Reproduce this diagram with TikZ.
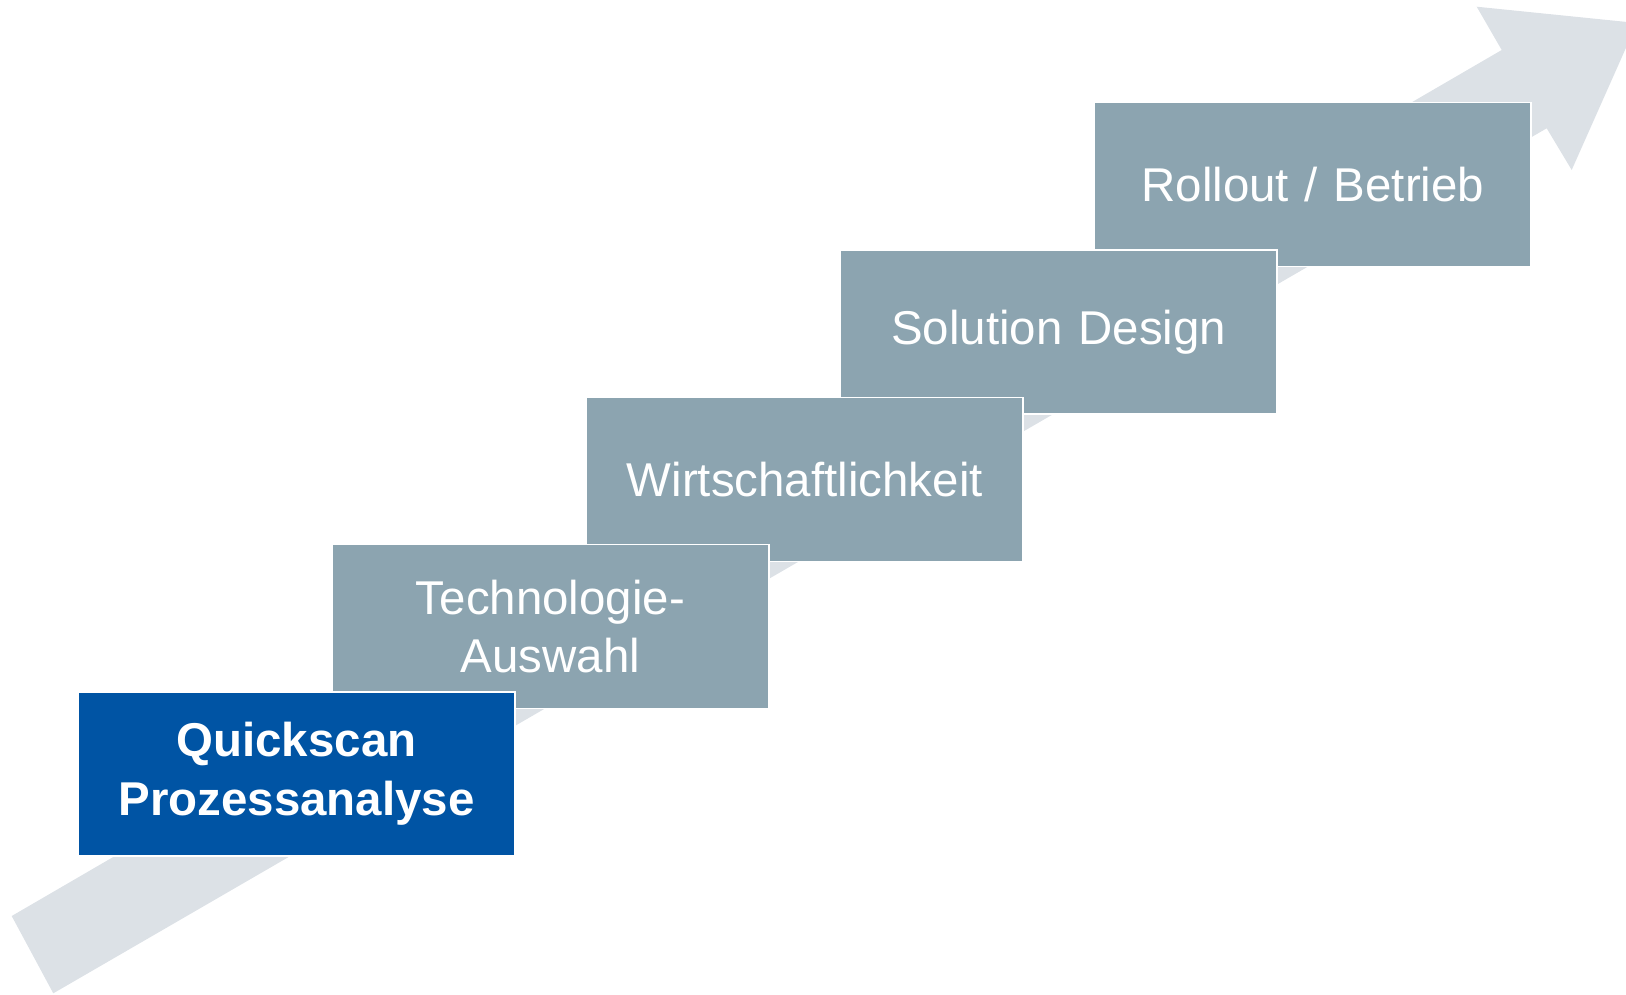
\documentclass[tikz,border=0pt]{standalone}
\usepackage{fontspec}
\setmainfont{Liberation Sans}

\definecolor{stagegrey}{RGB}{140,164,176}
\definecolor{stageblue}{RGB}{0,84,164}
\definecolor{arrowgrey}{RGB}{220,225,230}

\begin{document}
\begin{tikzpicture}[x=0.1mm, y=-0.1mm]

\tikzstyle{stage} = [rectangle, draw=white, line width=0.5pt, fill=stagegrey,
text=white, text width=40mm, align=center, inner sep=0pt,
minimum width=43.7mm, minimum height=16.4mm,
font=\fontsize{13.5}{16.5}\selectfont]
\tikzstyle{current} = [stage, fill=stageblue,
font=\fontsize{13.5}{16.8}\selectfont\bfseries]

\useasboundingbox (0,0) rectangle (1626,994);
\clip (0,0) rectangle (1626,994);

\fill [arrowgrey] (11.7,916) -- (53.3,993.3) -- (1546.7,128.3) -- (1571.7,170)
  -- (1637,23) -- (1476.7,6.7) -- (1501.7,50) -- cycle;

\node [stage] (rollout) at (1312.8,184.5) {Rollout / Betrieb};
\node [stage] (solution) at (1058.8,332) {Solution Design};
\node [stage] (wirtschaft) at (804.8,479.5) {Wirtschaftlichkeit};
\node [stage] (technologie) at (550.5,626.5) {Technologie-\\Auswahl};
\node [current] (quickscan) at (296.5,774) {Quickscan\\Prozessanalyse};
\end{tikzpicture}
\end{document}
